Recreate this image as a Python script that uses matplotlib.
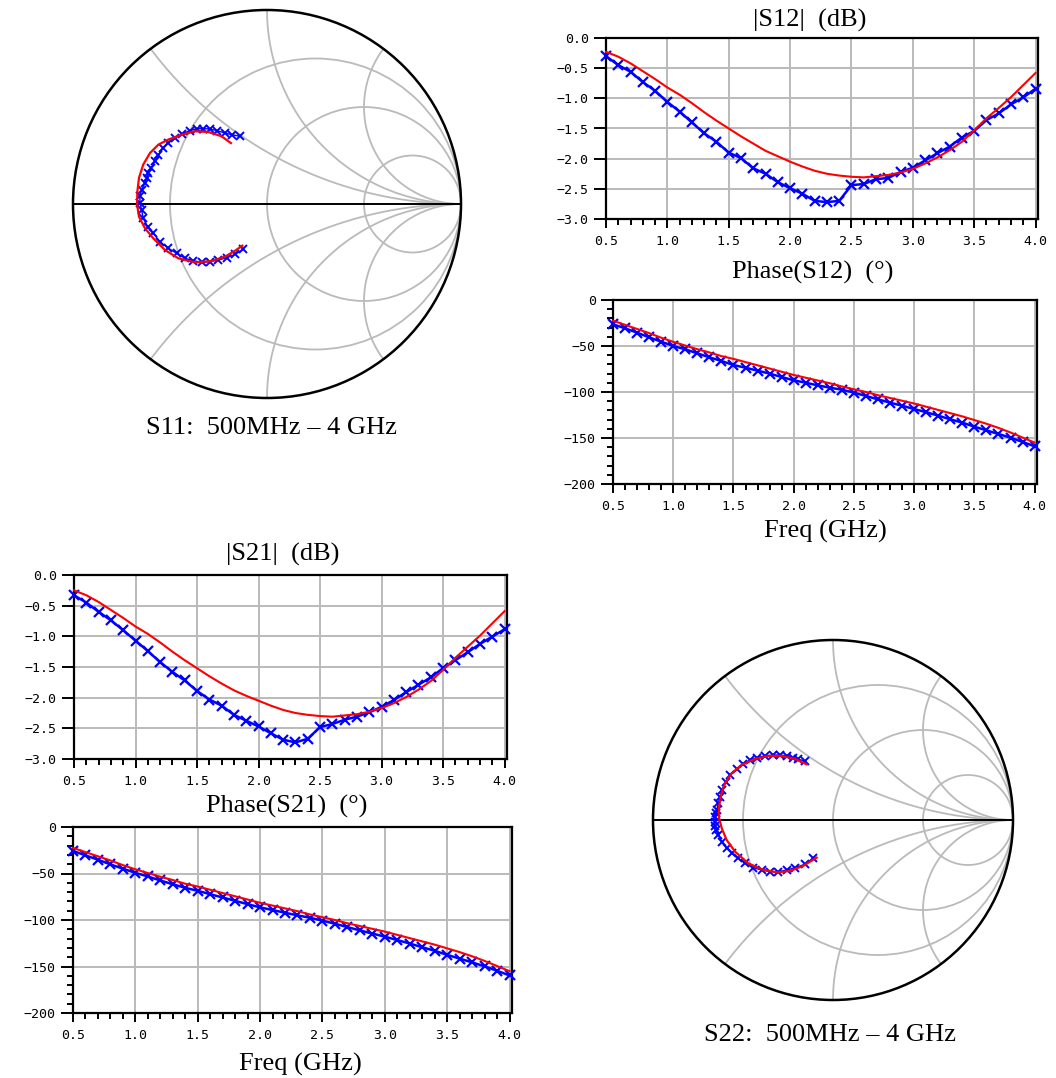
import numpy as np
import matplotlib
matplotlib.use("Agg")
import matplotlib.pyplot as plt
from matplotlib.patches import Circle
from matplotlib.ticker import MultipleLocator, FuncFormatter

W, H, DPI = 1056, 1078, 100

# ---------------------------------------------------------------- data
freq_ghz = [0.5, 0.6, 0.7, 0.8, 0.9, 1.0, 1.1, 1.2, 1.3, 1.4, 1.5, 1.6,
            1.7, 1.8, 1.9, 2.0, 2.1, 2.2, 2.3, 2.4, 2.5, 2.6, 2.7, 2.8,
            2.9, 3.0, 3.1, 3.2, 3.3, 3.4, 3.5, 3.6, 3.7, 3.8, 3.9, 4.0]

# |S12| (dB): measured (blue, markers) and simulated (red)
s12_db_meas = [-0.30, -0.45, -0.56, -0.73, -0.875, -1.06, -1.22, -1.40, -1.58,
               -1.72, -1.90, -1.99, -2.16, -2.25, -2.39, -2.49, -2.58, -2.70,
               -2.72, -2.70, -2.44, -2.42, -2.34, -2.32, -2.22, -2.15, -2.03,
               -1.91, -1.80, -1.65, -1.54, -1.36, -1.25, -1.10, -0.985, -0.84]
s12_db_sim = [-0.23, -0.31, -0.42, -0.55, -0.68, -0.82, -0.94, -1.08, -1.23,
              -1.37, -1.50, -1.63, -1.75, -1.87, -1.96, -2.05, -2.13, -2.20,
              -2.25, -2.28, -2.30, -2.31, -2.29, -2.27, -2.23, -2.17, -2.08,
              -1.98, -1.86, -1.72, -1.53, -1.33, -1.16, -0.98, -0.78, -0.58]

# Phase(S12) (deg)
s12_ph_meas = [-26.4, -30.8, -35.5, -40.6, -45.3, -50.0, -53.6, -58.0, -62.3,
               -66.3, -70.7, -73.6, -76.8, -80.0, -83.7, -87.3, -89.9, -92.8,
               -95.3, -97.5, -100.7, -104.3, -108.0, -111.6, -114.9, -118.5,
               -122.0, -125.7, -129.7, -133.3, -137.7, -141.7, -145.7, -149.6,
               -154.3, -159.0]
s12_ph_sim = [-22.5, -27.0, -31.5, -36.0, -41.0, -45.5, -49.5, -53.5, -57.0,
              -61.0, -64.0, -67.5, -71.0, -74.5, -78.0, -81.5, -84.5, -87.5,
              -90.5, -94.0, -97.0, -100.0, -103.5, -106.5, -109.5, -112.5,
              -116.0, -119.5, -123.0, -126.5, -130.5, -134.5, -139.0, -144.0,
              -149.5, -155.0]

# |S21| (dB)
s21_db_meas = [-0.33, -0.45, -0.60, -0.74, -0.90, -1.07, -1.24, -1.42, -1.58,
               -1.72, -1.89, -2.03, -2.13, -2.28, -2.375, -2.47, -2.58, -2.685,
               -2.73, -2.67, -2.48, -2.43, -2.36, -2.31, -2.24, -2.15, -2.04,
               -1.91, -1.79, -1.67, -1.52, -1.39, -1.26, -1.125, -1.005, -0.885]
s21_db_sim = [-0.25, -0.33, -0.44, -0.57, -0.70, -0.84, -0.96, -1.10, -1.25,
              -1.39, -1.52, -1.65, -1.77, -1.88, -1.97, -2.05, -2.13, -2.20,
              -2.25, -2.28, -2.30, -2.31, -2.29, -2.27, -2.23, -2.17, -2.09,
              -1.99, -1.87, -1.73, -1.55, -1.35, -1.17, -0.99, -0.79, -0.59]

# Phase(S21) (deg)
s21_ph_meas = [-25.7, -30.5, -35.2, -40.2, -44.8, -49.3, -53.2, -57.5, -61.6,
               -65.4, -68.6, -72.3, -75.8, -79.4, -83.0, -86.4, -89.3, -92.2,
               -95.0, -97.6, -100.7, -104.0, -107.6, -111.2, -114.6, -117.9,
               -121.6, -125.3, -129.3, -133.1, -137.5, -141.5, -145.6, -149.8,
               -154.6, -159.6]
s21_ph_sim = [-22.5, -27.0, -31.5, -36.0, -41.0, -45.5, -49.5, -53.5, -57.0,
              -61.0, -64.0, -67.5, -71.0, -74.5, -78.0, -81.5, -84.5, -87.5,
              -90.5, -94.0, -97.0, -100.0, -103.5, -106.5, -109.5, -112.5,
              -116.0, -119.5, -123.0, -126.5, -130.5, -134.5, -139.0, -144.0,
              -149.5, -155.0]

# S11 reflection coefficient (real / imaginary), 500 MHz -> 4 GHz
s11_meas_re = [-0.122, -0.165, -0.208, -0.251, -0.294, -0.337, -0.380, -0.423,
               -0.466, -0.509, -0.552, -0.586, -0.615, -0.638, -0.646, -0.655,
               -0.655, -0.646, -0.629, -0.620, -0.612, -0.598, -0.577, -0.560,
               -0.534, -0.509, -0.474, -0.440, -0.397, -0.363, -0.328, -0.294,
               -0.259, -0.216, -0.182, -0.139]
s11_meas_im = [-0.234, -0.260, -0.277, -0.289, -0.297, -0.301, -0.292, -0.280,
               -0.254, -0.228, -0.194, -0.151, -0.117, -0.074, -0.031, 0.005,
               0.040, 0.074, 0.108, 0.134, 0.160, 0.186, 0.220, 0.254,
               0.289, 0.314, 0.340, 0.361, 0.378, 0.388, 0.388, 0.387,
               0.378, 0.366, 0.357, 0.349]
s11_sim_re = [-0.127, -0.165, -0.216, -0.285, -0.371, -0.457, -0.526, -0.586,
              -0.629, -0.660, -0.670, -0.668, -0.660, -0.638, -0.603, -0.560,
              -0.509, -0.440, -0.371, -0.302, -0.234, -0.186]
s11_sim_im = [-0.215, -0.241, -0.271, -0.294, -0.301, -0.280, -0.237, -0.177,
              -0.125, -0.065, 0.000, 0.065, 0.134, 0.203, 0.263, 0.306,
              0.332, 0.357, 0.375, 0.371, 0.349, 0.314]

# S22 reflection coefficient (real / imaginary), 500 MHz -> 4 GHz
s22_meas_re = [-0.109, -0.156, -0.211, -0.257, -0.304, -0.350, -0.396, -0.443,
               -0.489, -0.526, -0.563, -0.591, -0.618, -0.637, -0.648, -0.656,
               -0.658, -0.654, -0.652, -0.646, -0.637, -0.628, -0.618, -0.596,
               -0.572, -0.535, -0.498, -0.461, -0.424, -0.378, -0.332, -0.294,
               -0.257, -0.220, -0.193, -0.156]
s22_meas_im = [-0.213, -0.246, -0.265, -0.278, -0.287, -0.287, -0.278, -0.265,
               -0.241, -0.213, -0.185, -0.157, -0.120, -0.083, -0.058, -0.034,
               -0.010, 0.018, 0.037, 0.056, 0.093, 0.130, 0.167, 0.213,
               0.250, 0.283, 0.309, 0.333, 0.346, 0.356, 0.361, 0.361,
               0.356, 0.346, 0.337, 0.328]
s22_sim_re = [-0.091, -0.165, -0.239, -0.313, -0.396, -0.470, -0.544, -0.591,
              -0.618, -0.633, -0.633, -0.622, -0.600, -0.563, -0.507, -0.433,
              -0.359, -0.285, -0.211, -0.146]
s22_sim_im = [-0.209, -0.254, -0.283, -0.291, -0.274, -0.241, -0.176, -0.111,
              -0.046, 0.010, 0.074, 0.139, 0.204, 0.259, 0.306, 0.339,
              0.356, 0.356, 0.339, 0.309]

# Smith chart grid values
resistance_circles = [1 / 3, 1.0, 3.0]
reactance_arcs = [0.5, 1.0, 2.0]

MEAS_COLOR = "#0000ff"
SIM_COLOR = "#ff0000"
GRID_COLOR = "#bababa"
SERIF = ["Liberation Serif", "DejaVu Serif"]
TICKFONT = ["DejaVu Sans Mono"]
LABEL_SIZE = 19

fig = plt.figure(figsize=(W / DPI, H / DPI), dpi=DPI)
fig.patch.set_facecolor("white")


def px_axes(left, top, right, bottom):
    return fig.add_axes([left / W, 1 - bottom / H, (right - left) / W, (bottom - top) / H])


def px_text(x, y, s, size=LABEL_SIZE):
    fig.text(x / W, 1 - y / H, s, ha="center", va="center",
             family=SERIF, fontsize=size, color="black")


def minus(fmt):
    def f(v, _):
        if abs(v) < 1e-9:
            v = 0.0
        return fmt.format(v).replace("-", "\u2212")
    return FuncFormatter(f)


def rect_plot(ax, meas, sim, ylim, ymajor, yminor, yfmt):
    ax.set_xlim(0.5, 4.02)
    ax.set_ylim(*ylim)
    ax.xaxis.set_major_locator(MultipleLocator(0.5))
    ax.xaxis.set_minor_locator(MultipleLocator(0.1))
    ax.yaxis.set_major_locator(MultipleLocator(ymajor))
    if yminor:
        ax.yaxis.set_minor_locator(MultipleLocator(yminor))
    ax.xaxis.set_major_formatter(minus("{:.1f}"))
    ax.yaxis.set_major_formatter(minus(yfmt))
    ax.grid(True, which="major", color=GRID_COLOR, lw=1.4)
    ax.set_axisbelow(True)
    for sp in ax.spines.values():
        sp.set_linewidth(1.6)
        sp.set_color("black")
    ax.tick_params(which="both", direction="out", top=False, right=False,
                   width=1.4, colors="black")
    ax.tick_params(axis="x", which="major", length=6.5, pad=5)
    ax.tick_params(axis="x", which="minor", length=4.0)
    ax.tick_params(axis="y", which="major", length=8.5, pad=4)
    ax.tick_params(axis="y", which="minor", length=4.3)
    for lab in ax.get_xticklabels() + ax.get_yticklabels():
        lab.set_family(TICKFONT)
        lab.set_fontsize(9.5)
    ax.plot(freq_ghz, meas, color=MEAS_COLOR, lw=1.8, marker="x",
            markersize=6.5, mew=1.6, clip_on=False, zorder=3)
    ax.plot(freq_ghz, sim, color=SIM_COLOR, lw=1.5, clip_on=False, zorder=4)


def smith_plot(cx, cy, radius, meas_re, meas_im, sim_re, sim_im):
    half = radius + 8
    ax = px_axes(cx - half, cy - half, cx + half, cy + half)
    lim = half / radius
    ax.set_xlim(-lim, lim)
    ax.set_ylim(-lim, lim)
    ax.axis("off")
    # constant-resistance circles
    for r in resistance_circles:
        ax.add_patch(Circle((r / (1 + r), 0), 1 / (1 + r), fill=False,
                            ec=GRID_COLOR, lw=1.3, zorder=1))
    # constant-reactance arcs
    rr = np.concatenate([np.linspace(0, 5, 500), np.linspace(5, 400, 800)])
    for x in reactance_arcs:
        for sx in (1, -1):
            z = rr + 1j * sx * x
            g = (z - 1) / (z + 1)
            ax.plot(g.real, g.imag, color=GRID_COLOR, lw=1.3, zorder=1)
    ax.plot([-1, 1], [0, 0], color="black", lw=1.4, zorder=2)
    ax.add_patch(Circle((0, 0), 1, fill=False, ec="black", lw=1.8, zorder=2))
    ax.plot(meas_re, meas_im, color=MEAS_COLOR, lw=1.0, marker="x",
            markersize=6, mew=1.4, zorder=3)
    ax.plot(sim_re, sim_im, color=SIM_COLOR, lw=1.6, zorder=4)


# S11 Smith chart (top left)
smith_plot(267, 204, 194, s11_meas_re, s11_meas_im, s11_sim_re, s11_sim_im)
px_text(271, 428, "S11:  500MHz \u2013 4 GHz")

# |S12| and phase (top right)
ax = px_axes(606, 38, 1038, 219)
rect_plot(ax, s12_db_meas, s12_db_sim, (-3.0, 0.0), 0.5, None, "{:.1f}")
px_text(810, 20, "|S12|  (dB)")
px_text(813, 272, "Phase(S12)  (\u00b0)")
ax = px_axes(613, 300, 1037, 484)
rect_plot(ax, s12_ph_meas, s12_ph_sim, (-200, 0), 50, 10, "{:.0f}")
px_text(825, 531, "Freq (GHz)")

# |S21| and phase (bottom left)
ax = px_axes(74, 575, 507, 759)
rect_plot(ax, s21_db_meas, s21_db_sim, (-3.0, 0.0), 0.5, None, "{:.1f}")
px_text(283, 554, "|S21|  (dB)")
px_text(287, 806, "Phase(S21)  (\u00b0)")
ax = px_axes(73, 827, 512, 1013)
rect_plot(ax, s21_ph_meas, s21_ph_sim, (-200, 0), 50, 10, "{:.0f}")
px_text(300, 1064, "Freq (GHz)")

# S22 Smith chart (bottom right)
smith_plot(833, 820, 180, s22_meas_re, s22_meas_im, s22_sim_re, s22_sim_im)
px_text(830, 1035, "S22:  500MHz \u2013 4 GHz")

fig.savefig("out.png", dpi=DPI, facecolor="white")
